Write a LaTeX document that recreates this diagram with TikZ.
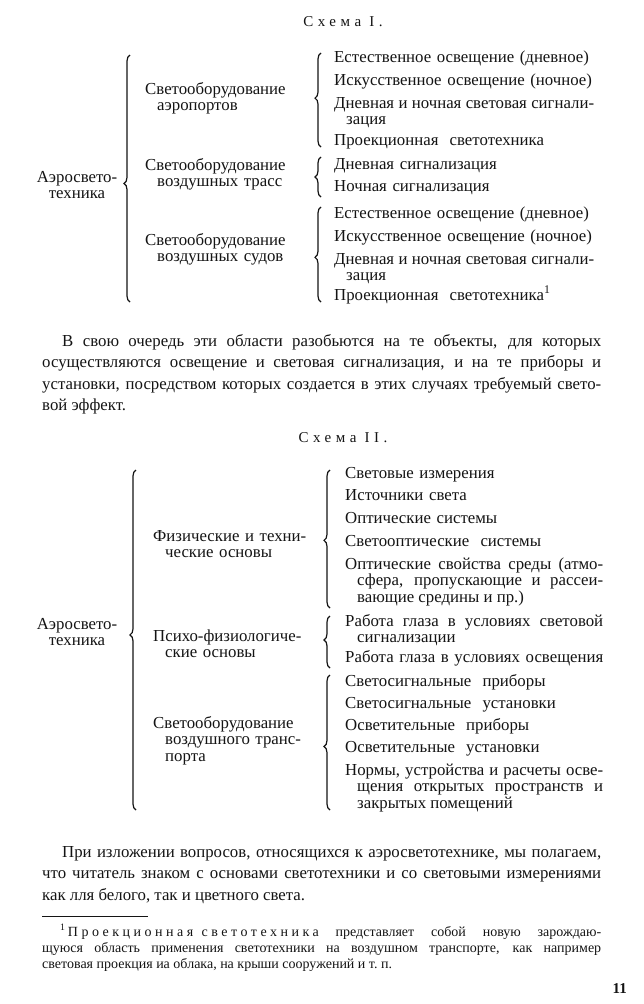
\documentclass[tikz,border=0pt]{standalone}
\usepackage{fontspec}
\setmainfont{Liberation Serif}
\usetikzlibrary{decorations.pathreplacing}
\definecolor{printink}{HTML}{141414}
\tolerance=10000
\hyphenpenalty=10000

\begin{document}
\begin{tikzpicture}[
  x=1pt, y=-1pt,
  every node/.style={inner sep=0pt, text=printink},
  heading/.style={anchor=base, font=\fontsize{15}{15}\selectfont\addfontfeature{LetterSpace=30}},
  root/.style={anchor=base, align=center, text width=100pt, font=\fontsize{16.8}{16.7}\selectfont},
  branch/.style={anchor=base west, align=left, text width=175pt, font=\fontsize{16.8}{16.7}\selectfont},
  leaf/.style={anchor=base west, align=left, text width=275pt, font=\fontsize{16.8}{16.7}\selectfont},
  wrapleaf/.style={leaf, align=justify, text width=#1},
  para/.style={anchor=base west, align=justify, text width=559pt, font=\fontsize{16.8}{21.5}\selectfont},
  note/.style={para, font=\fontsize{14}{16.3}\selectfont},
  grp/.style={draw=printink, line width=1.2pt, decorate, decoration={brace, amplitude=6pt, aspect=#1}}
]
\useasboundingbox[fill=white] (0,0) rectangle (644,1004);

\node[heading] (s1) at (343,26) {Схема I.};
\node[root] (r1) at (77,182) {Аэросвето-\\техника};
\node[branch] (a1) at (145,94) {Светооборудование\\\hspace*{12pt}аэропортов};
\node[branch] (a2) at (145,170) {Светооборудование\\\hspace*{12pt}воздушных трасс};
\node[branch] (a3) at (145,245) {Светооборудование\\\hspace*{12pt}воздушных судов};
\node[leaf] (a11) at (334,62) {Естественное освещение (дневное)};
\node[leaf] (a12) at (334,85) {Искусственное освещение (ночное)};
\node[wrapleaf=260pt] (a13) at (334,108) {Дневная и ночная световая сигнали-\linebreak \hspace*{12pt}зация};
\node[leaf] (a14) at (334,145) {Проекционная\ \ светотехника};
\node[leaf] (a21) at (334,169) {Дневная сигнализация};
\node[leaf] (a22) at (334,191) {Ночная сигнализация};
\node[leaf] (a31) at (334,218) {Естественное освещение (дневное)};
\node[leaf] (a32) at (334,241) {Искусственное освещение (ночное)};
\node[wrapleaf=260pt] (a33) at (334,264) {Дневная и ночная световая сигнали-\linebreak \hspace*{12pt}зация};
\node[leaf] (a34) at (334,300) {Проекционная\ \ светотехника\textsuperscript{1}};
\coordinate (r1s) at (130,302); \coordinate (r1e) at (130,55);
\coordinate (a1s) at (321,147); \coordinate (a1e) at (321,53);
\coordinate (a2s) at (321,197); \coordinate (a2e) at (321,157);
\coordinate (a3s) at (321,302); \coordinate (a3e) at (321,207);
\draw[grp=0.48] (r1s) -- (r1e);
\draw[grp=0.52] (a1s) -- (a1e);
\draw[grp=0.5] (a2s) -- (a2e);
\draw[grp=0.47] (a3s) -- (a3e);

\node[para] (p1) at (42,346) {\hspace*{20pt}В свою очередь эти области разобьются на те объекты, для которых\linebreak
осуществляются освещение и световая сигнализация, и на те приборы и\linebreak
установки, посредством которых создается в этих случаях требуемый свето-\linebreak
вой эффект.};

\node[heading] (s2) at (343,442) {Схема II.};
\node[root] (r2) at (77,629) {Аэросвето-\\техника};
\node[branch] (b1) at (153,541) {Физические и техни-\\\hspace*{12pt}ческие основы};
\node[branch] (b2) at (153,641) {Психо-физиологиче-\\\hspace*{12pt}ские основы};
\node[branch] (b3) at (153,728) {Светооборудование\\\hspace*{12pt}воздушного транс-\\\hspace*{12pt}порта};
\node[leaf] (b11) at (345,478) {Световые измерения};
\node[leaf] (b12) at (345,500) {Источники света};
\node[leaf] (b13) at (345,523) {Оптические системы};
\node[leaf] (b14) at (345,546) {Светооптические\ \ системы};
\node[wrapleaf=258pt] (b15) at (345,569) {Оптические свойства среды (атмо-\linebreak \hspace*{12pt}сфера, пропускающие и рассеи-\linebreak \hspace*{12pt}вающие средины и пр.)};
\node[wrapleaf=258pt] (b21) at (345,626) {Работа глаза в условиях световой\linebreak \hspace*{12pt}сигнализации};
\node[leaf] (b22) at (345,662) {Работа глаза в условиях освещения};
\node[leaf] (b31) at (345,686) {Светосигнальные\ \ приборы};
\node[leaf] (b32) at (345,708) {Светосигнальные\ \ установки};
\node[leaf] (b33) at (345,730) {Осветительные\ \ приборы};
\node[leaf] (b34) at (345,752) {Осветительные\ \ установки};
\node[wrapleaf=258pt] (b35) at (345,775) {Нормы, устройства и расчеты осве-\linebreak \hspace*{12pt}щения открытых пространств и\linebreak \hspace*{12pt}закрытых помещений};
\coordinate (r2s) at (136,810); \coordinate (r2e) at (136,470);
\coordinate (b1s) at (330,608); \coordinate (b1e) at (330,470);
\coordinate (b2s) at (330,668); \coordinate (b2e) at (330,616);
\coordinate (b3s) at (330,810); \coordinate (b3e) at (330,675);
\draw[grp=0.515] (r2s) -- (r2e);
\draw[grp=0.49] (b1s) -- (b1e);
\draw[grp=0.54] (b2s) -- (b2e);
\draw[grp=0.47] (b3s) -- (b3e);

\node[para] (p2) at (42,857) {\hspace*{20pt}При изложении вопросов, относящихся к аэросветотехнике, мы полагаем,\linebreak
что читатель знаком с основами светотехники и со световыми измерениями\linebreak
как лля белого, так и цветного света.};

\draw[line width=0.9pt, printink] (42,916) -- (148,916);
\node[note] (fn) at (42,936) {\hspace*{18pt}\textsuperscript{1}\,{\addfontfeature{LetterSpace=25}Проекционная\hspace{0.6em}светотехника} представляет собой новую зарождаю-\linebreak
щуюся область применения светотехники на воздушном транспорте, как например\linebreak
световая проекция иа облака, на крыши сооружений и т.~п.};
\node[anchor=base east, font=\fontsize{15}{15}\selectfont\bfseries] (pg) at (627,993) {11};
\end{tikzpicture}
\end{document}
